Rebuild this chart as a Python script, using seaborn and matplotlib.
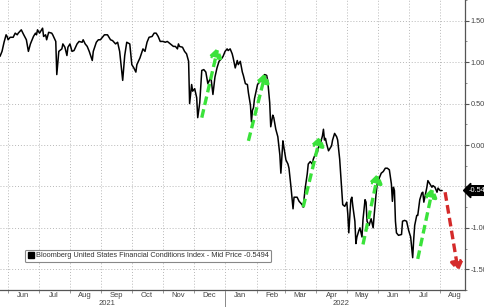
import numpy as np
import pandas as pd
import matplotlib
matplotlib.use("Agg")
import matplotlib.pyplot as plt
import matplotlib.dates as mdates
import matplotlib.transforms as mtransforms
from matplotlib.lines import Line2D
import seaborn as sns

# ---------------- data ----------------
start_date = "2021-05-24"
day_offsets = [
    0, 2, 4, 6, 7, 8, 10, 13, 15, 17, 18, 21, 23, 26, 28, 30, 33, 35, 36, 37, 39, 42, 43, 45, 46, 48,
    51, 52, 55, 56, 58, 61, 62, 64, 66, 67, 69, 71, 73, 76, 78, 81, 82, 84, 86, 88, 91, 92, 95, 97, 99,
    101, 103, 106, 107, 109, 111, 114, 116, 118, 121, 123, 125, 128, 130, 132, 134, 135, 138, 141, 143,
    145, 147, 150, 152, 154, 156, 158, 161, 163, 165, 168, 171, 173, 175, 176, 177, 180, 182, 184, 186,
    187, 189, 190, 192, 194, 195, 197, 199, 201, 203, 205, 208, 210, 212, 214, 216, 219, 220, 222, 224,
    225, 227, 229, 230, 232, 234, 235, 237, 239, 240, 242, 244, 245, 247, 248, 249, 250, 251, 253, 254,
    256, 258, 259, 261, 263, 264, 266, 267, 269, 270, 272, 274, 276, 277, 279, 280, 282, 284, 285, 287,
    289, 290, 293, 295, 298, 299, 301, 303, 304, 306, 308, 309, 311, 313, 314, 316, 318, 319, 320, 321,
    322, 324, 327, 328, 330, 332, 333, 335, 337, 338, 340, 342, 343, 344, 346, 347, 348, 350, 351, 352,
    354, 355, 357, 358, 360, 361, 362, 364, 366, 368, 369, 371, 372, 374, 376, 378, 380, 382, 384, 386,
    387, 388, 389, 390, 391, 393, 396, 397, 399, 401, 403, 405, 407, 408, 409, 411, 412, 414, 416, 417,
    418, 419, 421, 422, 424, 426, 427, 429, 431, 432, 434, 436,
]
index_values = [
    1.07, 1.13, 1.24, 1.33, 1.31, 1.27, 1.30, 1.30, 1.35, 1.33, 1.35, 1.39, 1.34, 1.27, 1.13, 1.22, 1.31,
    1.35, 1.33, 1.39, 1.35, 1.41, 1.31, 1.33, 1.27, 1.36,
    1.35, 1.33, 1.25, 0.85, 1.13, 1.16, 1.22, 1.18, 1.08, 1.18, 1.22, 1.13, 1.14, 1.22, 1.25, 1.24, 1.27,
    1.22, 1.19, 1.13, 1.02, 1.13, 1.24, 1.27, 1.27,
    1.30, 1.33, 1.33, 1.31, 1.27, 1.26, 1.22, 1.24, 1.13, 0.78, 1.08, 1.24, 1.22, 0.97, 0.93, 0.88, 0.97,
    1.05, 1.16, 1.13,
    1.24, 1.30, 1.31, 1.35, 1.35, 1.31, 1.25, 1.25, 1.24, 1.25, 1.22, 1.19, 1.19, 1.16, 1.22, 1.19, 1.18,
    1.13, 1.10, 1.01,
    0.50, 0.73, 0.65, 0.68, 0.57, 0.33, 0.51, 0.90, 0.91, 0.88, 0.74, 0.82, 0.61, 0.82, 0.93, 1.01, 1.05,
    1.07, 1.13, 1.16,
    1.14, 1.16, 1.10, 1.05, 0.93, 1.02, 0.97, 1.01, 0.88, 0.84, 0.74, 0.73, 0.63, 0.48, 0.28, 0.42, 0.45,
    0.56, 0.67, 0.73,
    0.76, 0.78, 0.82, 0.85, 0.84, 0.78, 0.51, 0.22, 0.36, 0.33, 0.19, 0.10, -0.12, -0.34, 0.05, -0.03,
    -0.18, -0.23, -0.28, -0.51,
    -0.77, -0.63, -0.63, -0.68, -0.72, -0.75, -0.52, -0.35, -0.23, -0.20, -0.23, -0.17, -0.11, -0.09,
    -0.03, 0.02, 0.11, 0.19, 0.06, 0.08,
    0.02, -0.07, -0.01, 0.06, 0.14, 0.10, 0.06, -0.17, -0.55, -0.72, -0.74, -0.69, -0.83, -1.06, -0.66,
    -0.63, -0.74, -0.92, -1.19, -1.11,
    -1.03, -1.00, -1.11, -0.90, -0.66, -0.69, -0.92, -0.97, -0.89, -1.00, -0.85, -0.58, -0.47, -0.40,
    -0.34, -0.32, -0.28, -0.28, -0.30, -0.47,
    -0.68, -0.51, -0.55, -0.92, -1.06, -1.09, -1.08, -0.92, -0.91, -0.92, -1.03, -1.11, -1.36, -1.14,
    -0.97, -0.85, -0.85, -0.66, -0.58, -0.57,
    -0.69, -0.63, -0.51, -0.43, -0.47, -0.51, -0.49, -0.51, -0.57, -0.52, -0.55, -0.5494,
]
last_value = -0.5494
last_value_label = "-0.5494"
series_label = "Bloomberg United States Financial Conditions Index - Mid Price -0.5494"

# annotation arrows (day offset, value) start -> end
green_arrow_start_days = [199, 245, 299, 358, 412]
green_arrow_start_vals = [0.33, 0.05, -0.75, -1.20, -1.375]
green_arrow_end_days = [215, 262, 316, 373, 427]
green_arrow_end_vals = [1.18, 0.875, 0.11, -0.34, -0.51]
red_arrow_start_days = [439]
red_arrow_start_vals = [-0.57]
red_arrow_end_days = [452]
red_arrow_end_vals = [-1.53]

y_ticks = [-1.5, -1.0, -0.5, 0.0, 0.5, 1.0, 1.5]
y_tick_labels = ["-1.50", "-1.00", "", "0.00", "0.50", "1.00", "1.50"]  # -0.50 hidden behind tag
year_labels = ["2021", "2022"]
year_label_dates = ["2021-09-07", "2022-04-25"]
year_divider_date = "2022-01-01"

# ---------------- build ----------------
t0 = pd.Timestamp(start_date)
df = pd.DataFrame({
    "date": t0 + pd.to_timedelta(day_offsets, unit="D"),
    "value": index_values,
})

sns.set_style("white")
plt.rcParams["font.family"] = ["Liberation Sans", "DejaVu Sans"]

fig = plt.figure(figsize=(4.85, 3.07), dpi=100)
ax = fig.add_axes([0.0, 17 / 307, 465 / 485, 290 / 307])

sns.lineplot(data=df, x="date", y="value", ax=ax, color="black", lw=1.1,
             estimator=None, zorder=3)

ax.set_xlim(t0, t0 + pd.Timedelta(days=458.6))
ax.set_ylim(-1.68, 1.61)
ax.set_xlabel("")
ax.set_ylabel("")

# y axis on the right
ax.yaxis.tick_right()
ax.set_yticks(y_ticks)
ax.set_yticklabels(y_tick_labels)
ax.set_yticks(np.arange(-1.75, 1.76, 0.25), minor=True)
ax.tick_params(axis="y", which="major", length=3, width=0.8, color="#555555",
               labelsize=5.3, labelcolor="#444444", pad=1.2, right=True, left=False)
ax.tick_params(axis="y", which="minor", length=1.5, width=0.6, color="#777777",
               right=True, left=False)

# x axis months
ax.xaxis.set_major_locator(mdates.MonthLocator(bymonthday=1))
ax.xaxis.set_major_formatter(plt.NullFormatter())
ax.xaxis.set_minor_locator(mdates.MonthLocator(bymonthday=16))
ax.xaxis.set_minor_formatter(mdates.DateFormatter("%b"))
ax.tick_params(axis="x", which="major", length=2, width=0.6, color="#888888", bottom=True)
ax.tick_params(axis="x", which="minor", length=0, labelsize=5.5, labelcolor="#444444", pad=1.5)

# grid
ax.grid(True, which="major", axis="both", color="#b8b8b8", lw=0.7, ls=(0, (1, 2)))

for side in ["left", "top"]:
    ax.spines[side].set_visible(False)
ax.spines["right"].set_color("#555555")
ax.spines["right"].set_linewidth(0.9)
ax.spines["bottom"].set_color("#555555")
ax.spines["bottom"].set_linewidth(0.9)

# year labels and divider
trans = mtransforms.blended_transform_factory(ax.transData, ax.transAxes)
for lab, d in zip(year_labels, year_label_dates):
    ax.text(pd.Timestamp(d), -0.048, lab, transform=trans, ha="center", va="center",
            fontsize=5.5, color="#444444", clip_on=False)
ax.plot([pd.Timestamp(year_divider_date)] * 2, [-0.008, -0.07], transform=trans,
        color="#888888", lw=0.7, clip_on=False)

# arrows
def draw_arrow(sd, sv, ed, ev, color):
    s = (t0 + pd.Timedelta(days=sd), sv)
    e = (t0 + pd.Timedelta(days=ed), ev)
    ax.annotate("", xy=e, xytext=s,
                arrowprops=dict(arrowstyle="-|>,head_width=0.4,head_length=0.6",
                                lw=2.4, ls=(0, (2.6, 1.3)), color=color,
                                mutation_scale=9, shrinkA=0, shrinkB=0,
                                capstyle="butt"),
                zorder=4)

for sd, sv, ed, ev in zip(green_arrow_start_days, green_arrow_start_vals,
                          green_arrow_end_days, green_arrow_end_vals):
    draw_arrow(sd, sv, ed, ev, "#3ae23a")
for sd, sv, ed, ev in zip(red_arrow_start_days, red_arrow_start_vals,
                          red_arrow_end_days, red_arrow_end_vals):
    draw_arrow(sd, sv, ed, ev, "#d42a2a")

# last-value tag on right axis
ax.text(1.008, last_value, last_value_label,
        transform=mtransforms.blended_transform_factory(ax.transAxes, ax.transData),
        ha="left", va="center", fontsize=5.3, color="white", clip_on=False, zorder=10,
        bbox=dict(boxstyle="larrow,pad=0.18", fc="black", ec="black"))

# legend
handle = Line2D([], [], marker="s", color="black", ls="none", markersize=5)
leg = ax.legend([handle], [series_label], loc="lower left",
                bbox_to_anchor=(25 / 465, 28 / 290), fontsize=5.3,
                frameon=True, fancybox=True, framealpha=1, edgecolor="#888888",
                handlelength=0.8, handletextpad=0.3, borderpad=0.35,
                borderaxespad=0)
leg.get_frame().set_linewidth(0.8)
for txt in leg.get_texts():
    txt.set_color("#333333")

fig.savefig("out.png", dpi=100)
